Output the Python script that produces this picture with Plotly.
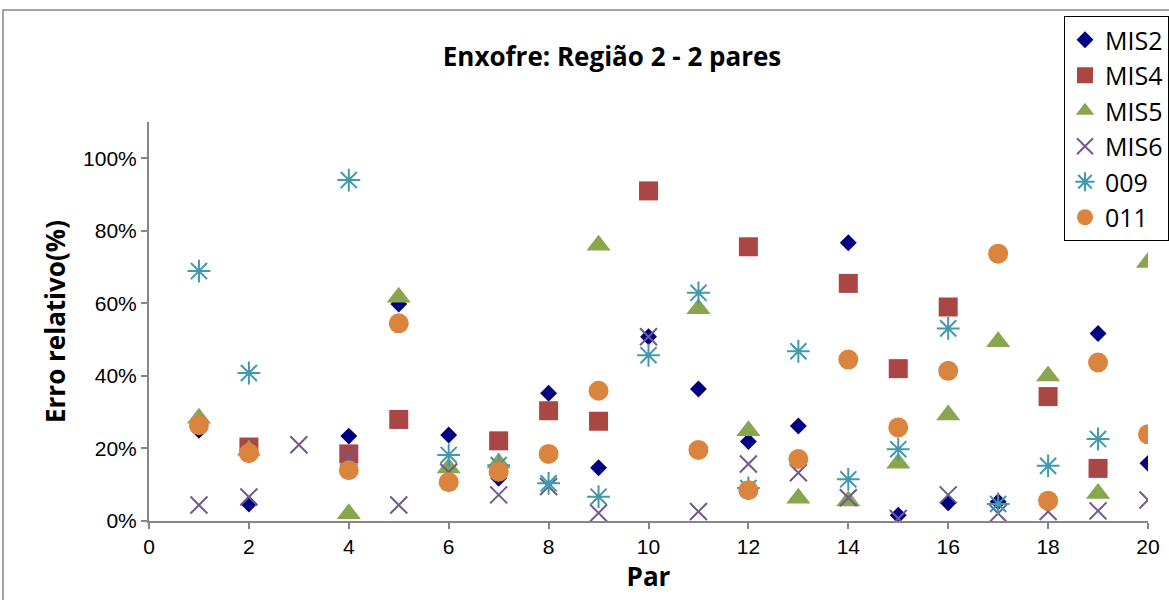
import plotly.graph_objects as go

par = list(range(1, 21))
N = None
mis2 = [0.25, 0.047, N, 0.234, 0.598, 0.237, 0.118, 0.352, 0.147, 0.508, 0.364, 0.219, 0.262, 0.767, 0.016, 0.050, 0.053, N, 0.517, 0.159]
mis4 = [N, 0.204, N, 0.185, 0.280, N, 0.221, 0.304, 0.275, 0.910, N, 0.756, N, 0.655, 0.420, 0.590, N, 0.343, 0.145, N]
mis5 = [0.283, 0.195, N, 0.020, 0.617, 0.146, 0.160, N, 0.760, N, 0.585, 0.249, 0.063, 0.055, 0.159, 0.292, 0.494, 0.400, 0.076, 0.713]
mis6 = [0.044, 0.066, 0.210, 0.176, 0.044, 0.135, 0.072, 0.095, 0.022, 0.508, 0.026, 0.157, 0.133, 0.064, 0.007, 0.072, 0.021, 0.026, 0.028, 0.058]
s009 = [0.689, 0.408, N, 0.940, N, 0.182, 0.154, 0.104, 0.067, 0.457, 0.629, 0.091, 0.468, 0.115, 0.198, 0.531, 0.047, 0.152, 0.226, N]
s011 = [0.264, 0.187, N, 0.140, 0.545, 0.107, 0.136, 0.185, 0.359, N, 0.196, 0.085, 0.171, 0.445, 0.258, 0.414, 0.737, 0.056, 0.437, 0.239]

series = [
    ("MIS2", mis2, dict(symbol="diamond", size=13, color="#000080")),
    ("MIS4", mis4, dict(symbol="square", size=19, color="#AA4643")),
    ("MIS5", mis5, dict(symbol="triangle-up", size=21, color="#89A54E")),
    ("MIS6", mis6, dict(symbol="x-thin-open", size=17, color="#71588F", line=dict(width=2, color="#71588F"))),
    ("009", s009, dict(symbol="asterisk-open", size=19, color="#4198AF", line=dict(width=2, color="#4198AF"))),
    ("011", s011, dict(symbol="circle", size=20, color="#DB843D")),
]

fig = go.Figure()
for name, vals, mk in series:
    fig.add_trace(go.Scatter(x=par, y=vals, mode="markers", name=name, marker=mk))

axis_font = dict(family="Liberation Sans, Arial", size=21, color="black")
title_font = dict(family="Open Sans", size=26, color="black")
fig.update_layout(
    width=1169, height=600,
    margin=dict(l=149, r=21, t=122, b=79, autoexpand=False),
    paper_bgcolor="white", plot_bgcolor="white",
    title=dict(text="<b>Enxofre: Região 2 - 2 pares</b>", x=612 / 1169, xanchor="center",
               y=1 - 57 / 600, yanchor="middle",
               font=dict(family="Open Sans", size=26, color="black")),
    showlegend=True,
    legend=dict(xref="container", yref="container", x=1064 / 1169, y=1 - 16 / 600,
                xanchor="left", yanchor="top",
                bordercolor="black", borderwidth=1, bgcolor="white",
                font=dict(family="Open Sans", size=25, color="black"),
                tracegroupgap=0, itemwidth=30),
    xaxis=dict(range=[0, 20], dtick=2, tick0=0, showgrid=False, zeroline=False,
               showline=True, linecolor="#868686", linewidth=2,
               ticks="outside", ticklen=6, tickcolor="#868686", tickwidth=1.5,
               tickfont=axis_font,
               title=dict(text="<b>Par</b>", font=title_font, standoff=10)),
    yaxis=dict(range=[0, 1.1], dtick=0.2, tick0=0, tickformat=".0%", showgrid=False, zeroline=False,
               showline=True, linecolor="#868686", linewidth=2,
               ticks="outside", ticklen=6, tickcolor="#868686", tickwidth=1.5,
               tickfont=axis_font,
               title=dict(text="<b>Erro relativo(%)</b>", font=title_font, standoff=10)),
    shapes=[dict(type="rect", xref="paper", yref="paper",
                 x0=(3 - 149) / 999, x1=1.2, y0=-0.5, y1=(521 - 10) / 399,
                 line=dict(color="#868686", width=1.5), layer="below")],
)

fig.write_html("out.html")
